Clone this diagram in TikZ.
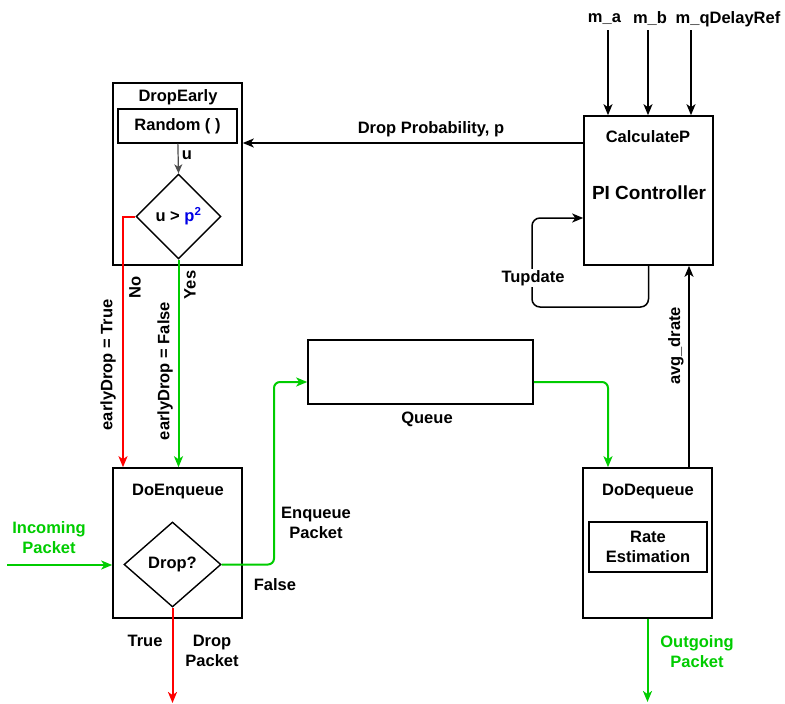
\documentclass[tikz,border=0pt]{standalone}
\usepackage{fontspec}
\setmainfont{Liberation Sans}
\usetikzlibrary{arrows.meta,positioning,shapes.geometric,calc}
\definecolor{okgreen}{RGB}{0,204,0}
\definecolor{dropred}{RGB}{255,0,0}
\definecolor{pblue}{RGB}{0,0,230}

\begin{document}
\begin{tikzpicture}[x=1pt,y=-1pt,
  every node/.style={font=\bfseries\fontsize{16.5}{20}\selectfont},
  block/.style={draw,line width=1.6pt,inner sep=0pt},
  cond/.style={draw,diamond,line width=1.4pt,inner sep=0pt},
  link/.style={line width=1.5pt,-{Stealth[length=11pt,width=9pt,inset=3pt]}},
  glink/.style={link,draw=okgreen,line width=2pt,rounded corners=6pt},
  rlink/.style={link,draw=dropred,line width=2pt}]
  \useasboundingbox (0,0) rectangle (785,704);

  % DropEarly
  \node[block,minimum width=129pt,minimum height=182pt] (dropearly) at (177.5,174) {};
  \node (dropearlyT) at (178,97) {DropEarly};
  \node[block,line width=1.4pt,minimum width=119pt,minimum height=34pt] (random) at (177.5,126) {Random ( )};
  \node[cond,minimum width=85pt,minimum height=85pt] (cmp) at (178.5,216.5) {u > {\color{pblue}p\textsuperscript{2}}};
  \draw[line width=1.2pt,gray!60!black,-{Stealth[length=9pt,width=8pt,inset=2.5pt]}] (random) -- (cmp.north);
  \node (uT) at (187,155) {u};

  % CalculateP
  \node[block,minimum width=129pt,minimum height=149pt] (calcp) at (648.5,190.5) {};
  \node (calcpT) at (648,137) {CalculateP};
  \node[font=\bfseries\fontsize{19}{23}\selectfont] (piT) at (649,193) {PI Controller};
  \node (maT) at (604.5,19) {m\_a};
  \node (mbT) at (650,19) {m\_b};
  \node (mqT) at (728,19) {m\_qDelayRef};
  \coordinate (pa) at (608,30);
  \coordinate (pb) at (648,30);
  \coordinate (pq) at (691,30);
  \foreach \p in {pa,pb,pq}{
      \draw[link] (\p) -- (calcp.north -| \p);
  }
  \coordinate (dpy) at (0,143);
  \draw[link] (calcp.west |- dpy) -- (dropearly.east |- dpy);
  \node (dpT) at (431,129) {Drop Probability, p};
  \coordinate (tl) at (532,307);
  \coordinate (tin) at (0,218);
  \draw[link,rounded corners=8pt] (calcp.south) |- (tl) |- (calcp.west |- tin);
  \node[fill=white,inner sep=1pt] (tupT) at (533,278) {Tupdate};

  % Queue
  \node[block,minimum width=225pt,minimum height=64pt] (queue) at (420.5,372) {};
  \node (queueT) at (427,419) {Queue};
  \coordinate (qy) at (0,382);

  % DoEnqueue
  \node[block,minimum width=129pt,minimum height=150pt] (doenq) at (177.5,543) {};
  \node (doenqT) at (178,492) {DoEnqueue};
  \node[cond,minimum width=97pt,minimum height=85pt] (drop) at (172.5,564.5) {Drop?};

  % DoDequeue
  \node[block,minimum width=129pt,minimum height=150pt] (dodeq) at (647.5,543) {};
  \node (dodeqT) at (648,492) {DoDequeue};
  \node[block,line width=1.4pt,minimum width=118pt,minimum height=50pt,align=center] (rate) at (648,547) {Rate\\Estimation};

  % early drop decision
  \coordinate (ex) at (123,0);
  \coordinate (ey) at (178.5,0);
  \draw[rlink] (cmp.west) -| (doenq.north -| ex);
  \draw[link,draw=okgreen,line width=2pt] (cmp.south) -- (doenq.north -| ey);
  \node[rotate=90] (noT) at (135,287) {No};
  \node[rotate=90] (yesT) at (190,285) {Yes};
  \node[rotate=90] (edtT) at (108,365) {earlyDrop = True};
  \node[rotate=90] (edfT) at (165,371) {earlyDrop = False};

  % packet path
  \coordinate (inp) at (7,565);
  \draw[glink] (inp) -- (doenq.west |- inp);
  \node[okgreen,align=center] (inT) at (49,538) {Incoming\\Packet};
  \coordinate (ej) at (274,382);
  \draw[glink] (drop.east) -| (ej) -- (queue.west |- ej);
  \node[align=center] (enqT) at (316,523) {Enqueue\\Packet};
  \node (falseT) at (275,585) {False};
  \coordinate (dx) at (608,0);
  \draw[glink] (queue.east |- qy) -| (dodeq.north -| dx);
  \coordinate (dout) at (0,703);
  \draw[rlink] (drop.south) -- (drop.south |- dout);
  \node (trueT) at (145,641) {True};
  \node[align=center] (dropT) at (212,651) {Drop\\Packet};
  \coordinate (oout) at (0,702);
  \draw[glink] (dodeq.south) -- (dodeq.south |- oout);
  \node[okgreen,align=center] (outT) at (697,652) {Outgoing\\Packet};

  % rate feedback
  \coordinate (ax) at (689,0);
  \draw[link] (dodeq.north -| ax) -- (calcp.south -| ax);
  \node[rotate=90] (avgT) at (676,346) {avg\_drate};
\end{tikzpicture}
\end{document}
